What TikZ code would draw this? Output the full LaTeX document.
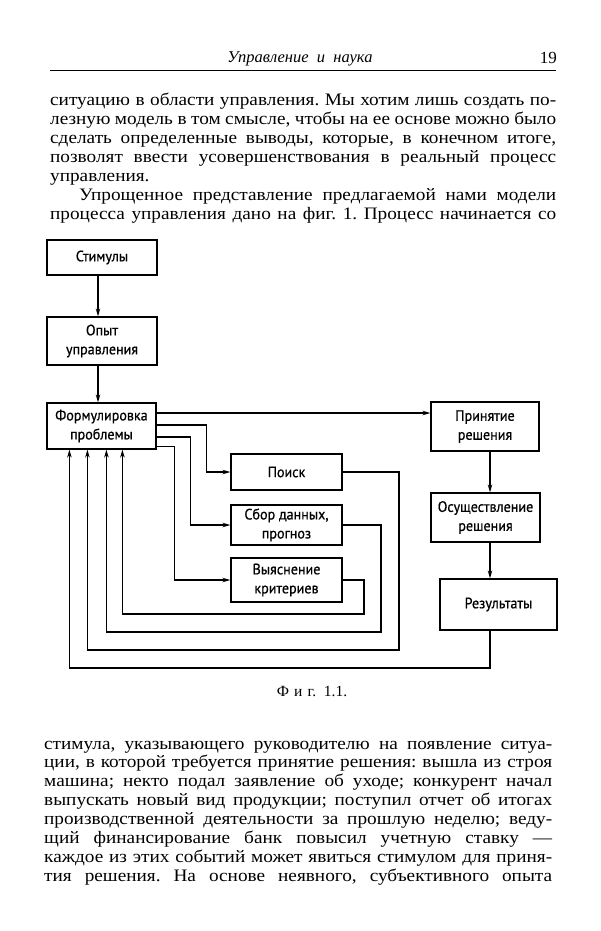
\documentclass[tikz,border=0pt]{standalone}
\usepackage{fontspec}
\setmainfont[FakeStretch=1.1]{Liberation Serif}
\newfontfamily\hdrfont{Liberation Serif}
\newfontfamily\diagfont[FakeBold=0.6,FakeStretch=0.94]{PT Sans}
\usetikzlibrary{arrows.meta,calc}
\begin{document}
\frenchspacing
\begin{tikzpicture}[x=1pt,y=-1pt,
  box/.style={draw,line width=1.2pt,inner sep=0pt,align=center,font=\diagfont\fontsize{15}{19}\selectfont},
  arr/.style={line width=1.2pt,-{Stealth[length=8pt,width=4.5pt]}},
  ln/.style={line width=1.2pt},
  bodyl/.style={anchor=base west,inner sep=0pt,font=\fontsize{17.5}{19}\selectfont}]
\fill[white] (0,0) rectangle (600,931);
\useasboundingbox (0,0) rectangle (600,931);
% header
\node[anchor=base,inner sep=0pt,font=\hdrfont\itshape\fontsize{16.5}{19}\selectfont] (hdr) at (300,63) {Управление\ \ и\ \ наука};
\node[anchor=base east,inner sep=0pt,font=\hdrfont\fontsize{17}{19}\selectfont] (pg) at (557,64) {19};
\coordinate (rl) at (50,70.5);
\coordinate (rr) at (556,70.5);
\draw[line width=1.3pt] (rl) -- (rr);
% top text
\node[bodyl] (t1) at (50,106) {\makebox[506pt][s]{ситуацию в области управления. Мы хотим лишь создать по-}};
\node[bodyl] (t2) at (50,124.9) {\makebox[506pt][s]{лезную модель в том смысле, чтобы на ее основе можно было}};
\node[bodyl] (t3) at (50,143.8) {\makebox[506pt][s]{сделать определенные выводы, которые, в конечном итоге,}};
\node[bodyl] (t4) at (50,162.7) {\makebox[506pt][s]{позволят ввести усовершенствования в реальный процесс}};
\node[bodyl] (t5) at (50,181.6) {управления.};
\node[bodyl] (t6) at (79,200.5) {\makebox[477pt][s]{Упрощенное представление предлагаемой нами модели}};
\node[bodyl] (t7) at (50,219.4) {\makebox[506pt][s]{процесса управления дано на фиг. 1. Процесс начинается со}};
% diagram
\node[box,minimum width=110pt,minimum height=35pt] (stim) at (102,257.5) {Стимулы};
\node[box,minimum width=110pt,minimum height=48pt] (opyt) at (102,341) {Опыт\\управления};
\node[box,minimum width=109pt,minimum height=46pt] (form) at (101.5,426) {Формулировка\\проблемы};
\node[box,minimum width=111pt,minimum height=36pt] (poisk) at (286.5,472) {Поиск};
\node[box,minimum width=111pt,minimum height=40pt] (sbor) at (286.5,525) {Сбор данных,\\прогноз};
\node[box,minimum width=111pt,minimum height=44pt] (vyy) at (286.5,580) {Выяснение\\критериев};
\node[box,minimum width=108pt,minimum height=49pt] (prin) at (485,426.5) {Принятие\\решения};
\node[box,minimum width=109pt,minimum height=49pt] (osu) at (485.5,517.5) {Осуществление\\решения};
\node[box,minimum width=117pt,minimum height=51pt] (rez) at (498.5,604.5) {Результаты};
\coordinate (ax) at (98,0);
\coordinate (bx) at (490,0);
\draw[arr] (stim.south -| ax) -- (opyt.north -| ax);
\draw[arr] (opyt.south -| ax) -- (form.north -| ax);
\draw[arr] ([yshift=13pt]form.east) coordinate (s1) -- (s1 -| prin.west);
\draw[arr] ([yshift=1pt]form.east) -| ([xshift=-24pt]poisk.west) -- (poisk.west);
\draw[arr] ([yshift=-11pt]form.east) -| ([xshift=-40pt]sbor.west) -- (sbor.west);
\draw[arr] ([yshift=3pt]form.south east) -| ([xshift=-56pt]vyy.west) -- (vyy.west);
\draw[arr] (prin.south -| bx) -- (osu.north -| bx);
\draw[arr] (osu.south -| bx) -- (rez.north -| bx);
\coordinate (rp) at (399,650);
\coordinate (rs) at (381,632);
\coordinate (rv) at (364,614);
\coordinate (rz) at (490,668);
\draw[arr] (poisk.east) -| (rp) -| ([xshift=41pt]form.south west);
\draw[arr] (sbor.east) -| (rs) -| ([xshift=60pt]form.south west);
\draw[arr] (vyy.east) -| (rv) -| ([xshift=76pt]form.south west);
\draw[arr] (rez.south -| bx) -- (rz) -| ([xshift=23pt]form.south west);
\node[anchor=base,inner sep=0pt,font=\hdrfont\fontsize{15.5}{19}\selectfont] (cap) at (312,696) {Ф\,\,и\,\,г.\ \ 1.1.};
% bottom text
\node[bodyl] (b1) at (44,749) {\makebox[508pt][s]{стимула, указывающего руководителю на появление ситуа-}};
\node[bodyl] (b2) at (44,767.9) {\makebox[508pt][s]{ции, в которой требуется принятие решения: вышла из строя}};
\node[bodyl] (b3) at (44,786.7) {\makebox[508pt][s]{машина; некто подал заявление об уходе; конкурент начал}};
\node[bodyl] (b4) at (44,805.6) {\makebox[508pt][s]{выпускать новый вид продукции; поступил отчет об итогах}};
\node[bodyl] (b5) at (44,824.4) {\makebox[508pt][s]{производственной деятельности за прошлую неделю; веду-}};
\node[bodyl] (b6) at (44,843.3) {\makebox[508pt][s]{щий финансирование банк повысил учетную ставку —}};
\node[bodyl] (b7) at (44,862.1) {\makebox[508pt][s]{каждое из этих событий может явиться стимулом для приня-}};
\node[bodyl] (b8) at (44,881) {\makebox[508pt][s]{тия решения. На основе неявного, субъективного опыта}};
\end{tikzpicture}
\end{document}
